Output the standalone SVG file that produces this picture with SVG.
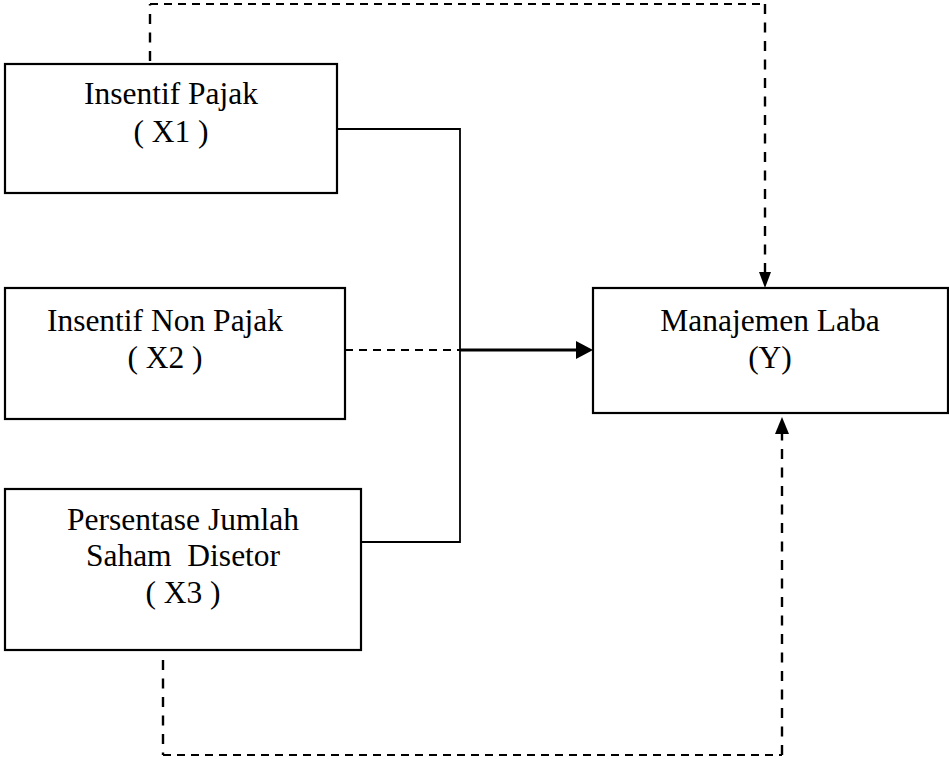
<svg xmlns="http://www.w3.org/2000/svg" width="949" height="760" viewBox="0 0 949 760">
<defs>
<style>
.box{fill:#fff;stroke:#000;stroke-width:2.2}
.t{font-family:"Liberation Serif","Times New Roman",serif;font-size:31.5px;fill:#000;text-anchor:middle}
.dh{fill:none;stroke:#000;stroke-width:2;stroke-dasharray:8 6}
.dv{fill:none;stroke:#000;stroke-width:2.4;stroke-dasharray:10 8.5}
.sol{fill:none;stroke:#000;stroke-width:1.8}
</style>
</defs>
<g id="connectors">
<path class="dv" d="M150,61V4"/>
<path class="dh" d="M150,4H765"/>
<path class="dv" d="M765,4V278"/>
<path d="M759,272L765,288L771,272z" fill="#000"/>
<path class="dh" d="M345,350H460"/>
<path class="sol" d="M337,129H460V542H361"/>
<path d="M460,350H578" fill="none" stroke="#000" stroke-width="2.8"/>
<path d="M576,341L593,350L576,359z" fill="#000"/>
<path class="dv" d="M163,660V755"/>
<path class="dh" d="M163,755H782"/>
<path class="dv" d="M782,755V428"/>
<path d="M775,434L782,417L789,434z" fill="#000"/>
</g>
<g id="x1">
<rect class="box" x="5" y="64" width="332" height="129"/>
<text class="t" x="171" y="104">Insentif Pajak</text>
<text class="t" x="171" y="142">( X1 )</text>
</g>
<g id="x2">
<rect class="box" x="5" y="288" width="340" height="131"/>
<text class="t" x="165" y="331">Insentif Non Pajak</text>
<text class="t" x="165" y="368">( X2 )</text>
</g>
<g id="x3">
<rect class="box" x="5" y="489" width="356" height="161"/>
<text class="t" x="183" y="530">Persentase Jumlah</text>
<text class="t" x="183" y="566" xml:space="preserve">Saham  Disetor</text>
<text class="t" x="183" y="603">( X3 )</text>
</g>
<g id="y">
<rect class="box" x="593" y="288" width="355" height="125"/>
<text class="t" x="770" y="331">Manajemen Laba</text>
<text class="t" x="770" y="368">(Y)</text>
</g>
</svg>
